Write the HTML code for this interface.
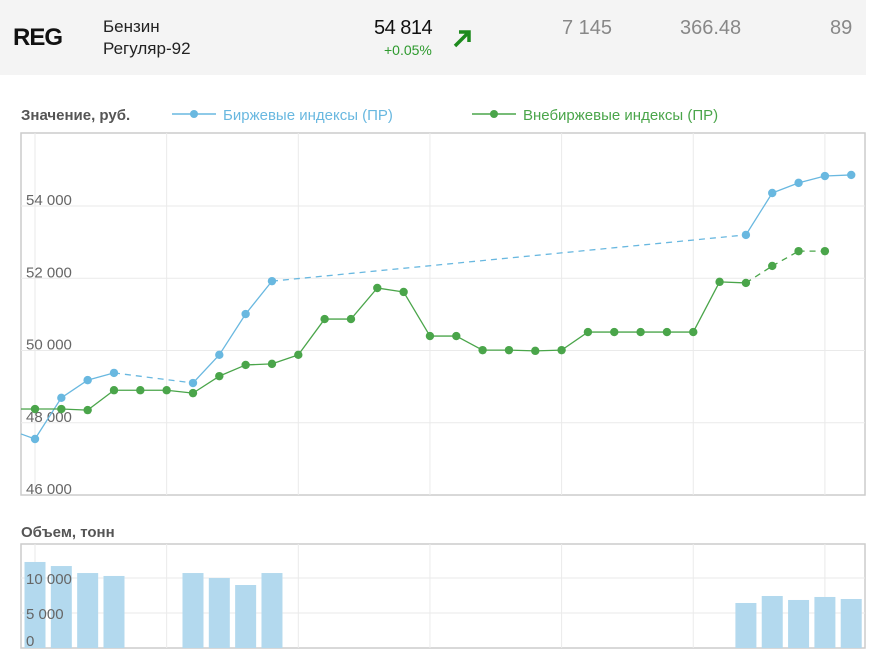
<!DOCTYPE html>
<html><head><meta charset="utf-8"><style>
body{margin:0;width:875px;height:654px;background:#fff;font-family:"Liberation Sans",sans-serif;overflow:hidden;position:relative}
.hdr{position:absolute;left:0;top:0;width:866px;height:75px;background:#f4f4f4}
.t{position:absolute;white-space:nowrap}
</style></head><body>
<div class="hdr">
<div class="t" style="left:13px;top:24px;font-size:24px;font-weight:bold;color:#111;letter-spacing:-1px">REG</div>
<div class="t" style="left:103px;top:16px;font-size:17px;color:#222;line-height:22px">Бензин<br>Регуляр-92</div>
<div class="t" style="left:374px;top:17px;font-size:20px;color:#111;letter-spacing:-0.5px">54 814</div>
<div class="t" style="left:384px;top:42px;font-size:14px;color:#2e9a2e">+0.05%</div>
<svg class="t" style="left:452px;top:27px" width="22" height="22"><path d="M3 19 L17 5 M7 5 L17 5 L17 15" stroke="#1d8a1d" stroke-width="3.5" fill="none"/></svg>
<div class="t" style="left:562px;top:17px;font-size:20px;color:#888">7 145</div>
<div class="t" style="left:680px;top:17px;font-size:20px;color:#888">366.48</div>
<div class="t" style="left:830px;top:17px;font-size:20px;color:#888">89</div>
</div>
<div class="t" style="left:21px;top:107px;font-size:15px;font-weight:bold;color:#555">Значение, руб.</div>
<svg class="t" style="left:172px;top:106px" width="250" height="18"><line x1="0" y1="8" x2="44" y2="8" stroke="#69b8e0" stroke-width="1.5"/><circle cx="22" cy="8" r="4" fill="#69b8e0"/><text x="51" y="14" font-size="15" fill="#69b8e0" font-family="Liberation Sans">Биржевые индексы (ПР)</text></svg>
<svg class="t" style="left:472px;top:106px" width="290" height="18"><line x1="0" y1="8" x2="44" y2="8" stroke="#4aa54a" stroke-width="1.5"/><circle cx="22" cy="8" r="4" fill="#4aa54a"/><text x="51" y="14" font-size="15" fill="#4aa54a" font-family="Liberation Sans">Внебиржевые индексы (ПР)</text></svg>
<div class="t" style="left:21px;top:524px;font-size:15px;font-weight:bold;color:#555">Объем, тонн</div>
<svg id="c" class="t" style="left:0;top:0" width="875" height="654"></svg>
<script>
const priceTicks=[46000,48000,50000,52000,54000];
const priceTickLabels=["46 000","48 000","50 000","52 000","54 000"];
const blueIdx=[0,1,2,3,6,7,8,9,27,28,29,30,31];
const blueVals=[47550,48690,49180,49380,49100,49880,51010,51920,53200,54360,54640,54830,54860];
const blueStart=47690;
const greenIdx=[0,1,2,3,4,5,6,7,8,9,10,11,12,13,14,15,16,17,18,19,20,21,22,23,24,25,26,27,28,29,30];
const greenVals=[48380,48380,48350,48900,48900,48900,48820,49290,49600,49630,49880,50870,50870,51730,51620,50400,50400,50010,50010,49990,50010,50510,50510,50510,50510,50510,51900,51870,52340,52750,52750];
const greenStart=48380;
const greenDashFrom=27;
const volIdx=[0,1,2,3,6,7,8,9,27,28,29,30,31];
const volVals=[12290,11710,10710,10290,10710,10000,9000,10710,6430,7430,6860,7290,7000];
const volTicks=[0,5000,10000];
const volTickLabels=["0","5 000","10 000"];
const svg=document.getElementById('c');const NS='http://www.w3.org/2000/svg';
function mk(t,a,p){const e=document.createElementNS(NS,t);for(const k in a)e.setAttribute(k,a[k]);(p||svg).appendChild(e);return e;}
const L=21,R=865,T=133,B=495;
const x=i=>35+i*26.33;
const y=v=>B-(v-46000)*0.036125;
const vy=v=>648-v*0.007;
let f=mk('rect',{x:L,y:T,width:R-L,height:B-T,fill:'none',stroke:'#ccc','stroke-width':1.5});

let f2=mk('rect',{x:L,y:544,width:R-L,height:104,fill:'none',stroke:'#ccc','stroke-width':1.5});

for(let i=0;i<=30;i+=5){
 const g=mk('line',{x1:x(i),x2:x(i),y1:T,y2:B,stroke:'#eaeaea'});
 
 const g2=mk('line',{x1:x(i),x2:x(i),y1:544,y2:648,stroke:'#eaeaea'});
 
}
priceTicks.forEach((v,k)=>{
 if(k>0){const g=mk('line',{x1:L,x2:R,y1:y(v),y2:y(v),stroke:'#eaeaea'});}
});
volTicks.forEach((v,k)=>{
 if(k>0){const g=mk('line',{x1:L,x2:R,y1:vy(v),y2:vy(v),stroke:'#eaeaea'});}
});
volIdx.forEach((i,k)=>{
 const b=mk('rect',{x:x(i)-10.5,y:vy(volVals[k]),width:21,height:648-vy(volVals[k]),fill:'#b3d9ee'});
 
});
volTicks.forEach((v,k)=>{
 const t=mk('text',{x:26,y:vy(v)+(k==0?-2:6),'font-size':15,fill:'#666','font-family':'Liberation Sans'});t.textContent=volTickLabels[k];
 
});
priceTicks.forEach((v,k)=>{
 const t=mk('text',{x:26,y:y(v)-1,'font-size':15,fill:'#666','font-family':'Liberation Sans'});
 t.textContent=priceTickLabels[k];
 
});
function series(idx,vals,start,color,name,dashFrom){
 const s0=mk('line',{x1:L,y1:y(start),x2:x(idx[0]),y2:y(vals[0]),stroke:color,'stroke-width':1.3});
 
 for(let k=1;k<idx.length;k++){
  const dashed=idx[k]-idx[k-1]>1||(dashFrom!=null&&idx[k-1]>=dashFrom);
  const s=mk('line',{x1:x(idx[k-1]),y1:y(vals[k-1]),x2:x(idx[k]),y2:y(vals[k]),stroke:color,'stroke-width':1.3});
  if(dashed)s.setAttribute('stroke-dasharray','6,5');
  
 }
 idx.forEach((i,k)=>{const c=mk('circle',{cx:x(i),cy:y(vals[k]),r:4.2,fill:color});
  });
}
series(blueIdx,blueVals,blueStart,'#69b8e0','exchange-index',null);
series(greenIdx,greenVals,greenStart,'#4aa54a','otc-index',greenDashFrom);
</script>
</body></html>
